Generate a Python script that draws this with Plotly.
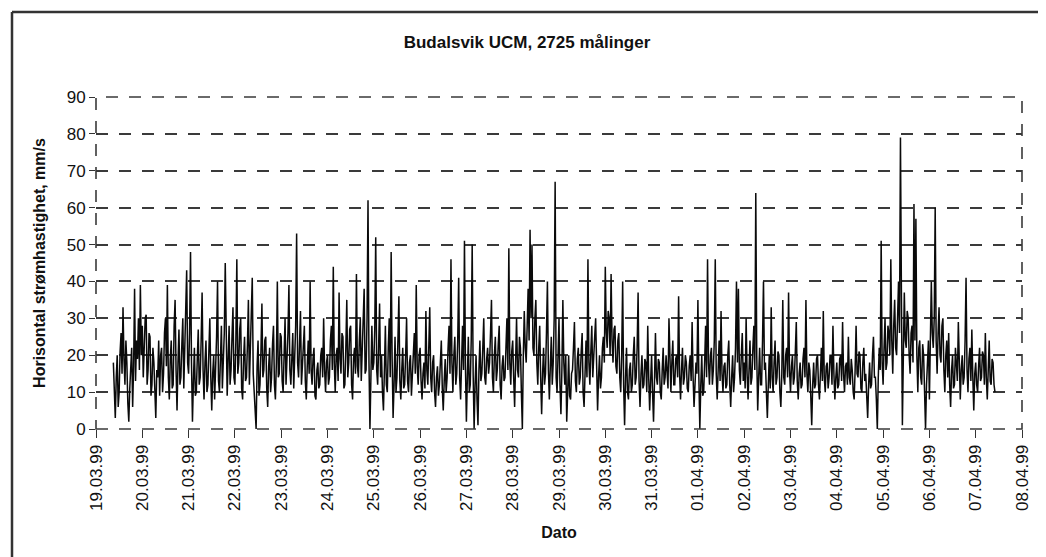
import pandas as pd
import plotly.graph_objects as go

# Half-hourly readings of horizontal current speed (mm/s).
# First day starts 19.03.99 09:00, every other day starts at 00:00.
d19_03 = [18,9,3,14,20,6,10,21,26,15,33,19,12,24,18,7,2,11,15,22,6,17,38,13,24,19,30,16,39,20]
d20_03 = [28,14,22,30,31,12,16,26,25,9,12,22,18,8,3,16,14,24,9,20,22,10,15,26,30,17,39,14,8,19,24,11,12,28,35,16,5,18,27,12,14,23,30,11,20,27,43,18]
d21_03 = [15,26,48,18,2,13,22,9,10,19,27,12,14,24,37,16,8,18,24,10,12,21,30,14,5,15,20,8,15,25,40,13,10,22,28,11,18,26,45,17,9,19,28,12,16,25,33,14]
d22_03 = [12,24,46,15,18,27,30,11,8,19,25,13,14,23,35,12,20,28,41,15,10,6,0,17,24,9,12,21,34,14,16,24,25,11,6,17,22,10,14,23,28,12,8,18,40,14,15,26]
d23_03 = [25,13,10,20,30,12,18,26,39,16,12,22,26,11,20,28,53,18,14,24,32,12,18,25,28,13,8,17,24,15,40,16,12,19,22,9,8,16,18,11,12,20,22,14,30,16,10,18]
d24_03 = [20,12,14,24,28,16,44,18,10,20,22,13,37,19,15,26,25,11,12,22,35,14,18,27,28,12,8,19,22,15,42,17,14,24,30,13,20,26,38,15,16,30,62,18,0,14,28,16]
d25_03 = [18,27,52,16,12,22,34,14,20,10,5,16,28,12,10,22,30,14,48,19,3,12,25,10,14,24,36,13,8,16,22,11,12,20,30,13,10,18,20,9,14,21,26,15,39,17,12,20]
d26_03 = [22,13,8,15,18,11,32,16,12,22,33,14,10,18,20,10,6,14,17,9,12,18,24,11,5,13,19,10,14,22,28,15,46,18,10,20,25,12,15,24,41,14,8,18,28,16,51,17]
d27_03 = [2,14,25,10,12,24,50,15,0,12,20,8,1,16,24,13,15,22,30,14,12,19,22,15,18,26,35,14,10,20,25,13,16,23,28,12,8,17,20,13,14,22,30,16,49,18,12,21]
d28_03 = [24,14,6,18,30,16,14,25,22,10,0,20,32,22,18,28,38,24,54,30,50,22,20,30,35,18,12,22,28,14,4,15,22,12,15,26,40,16,8,17,25,12,18,30,67,14,10,20]
d29_03 = [30,12,4,16,35,18,12,20,2,10,20,9,8,15,16,22,29,13,10,19,22,12,14,21,26,10,6,15,24,14,46,18,12,21,28,14,18,25,30,12,5,14,20,11,14,22,25,18]
d30_03 = [44,26,22,32,30,20,42,24,18,27,28,17,15,24,26,14,10,20,40,12,1,14,22,10,8,16,18,10,12,20,25,12,14,22,37,13,6,15,20,11,12,19,18,10,28,14,5,13]
d31_03 = [20,10,2,13,26,14,12,19,18,10,8,16,22,12,14,20,16,11,30,15,10,18,24,12,12,19,20,14,36,15,8,16,22,12,14,20,18,11,10,17,20,13,29,14,6,12,18,15]
d01_04 = [35,14,0,12,20,9,10,18,28,14,46,18,12,20,22,12,16,24,46,15,8,16,24,13,32,15,10,17,18,11,12,20,24,12,6,14,20,10,14,22,40,18,38,16,12,20,26,13]
d02_04 = [18,11,30,15,8,16,24,12,14,22,28,16,64,20,5,14,22,12,12,24,40,16,18,10,3,12,20,11,33,14,10,18,24,12,14,21,20,10,6,15,35,14,12,20,22,14,37,16]
d03_04 = [10,17,20,12,14,21,29,13,8,15,18,11,12,19,22,14,35,15,10,18,16,9,1,12,18,11,12,19,20,12,8,15,22,13,32,14,10,17,18,11,14,20,20,12,28,15,8,14]
d04_04 = [18,11,12,19,20,13,29,15,10,17,18,12,25,14,12,19,16,10,8,16,28,15,14,21,20,11,10,18,22,13,15,9,3,12,18,11,12,20,25,14,14,8,0,14,22,16,51,18]
d05_04 = [12,22,30,16,18,28,26,20,46,24,15,28,35,22,20,30,40,26,79,36,1,20,37,24,22,32,30,20,15,26,28,18,61,24,57,20,10,22,24,14,12,23,20,10,0,12,18,24]
d06_04 = [8,20,40,26,22,30,60,24,15,26,33,20,18,28,30,16,10,20,24,14,26,12,6,16,20,11,12,22,18,13,29,15,8,16,20,12,14,24,41,16,10,19,22,13,27,14,5,15]
d07_04 = [18,12,10,17,22,13,14,21,20,12,26,14,8,16,24,13,12,19,18,12,10]

day_starts = ["1999-03-19 09:00"] + [d.strftime("%Y-%m-%d 00:00") for d in
                                     pd.date_range("1999-03-20", "1999-04-07", freq="D")]
day_values = [d19_03, d20_03, d21_03, d22_03, d23_03, d24_03, d25_03, d26_03, d27_03,
              d28_03, d29_03, d30_03, d31_03, d01_04, d02_04, d03_04, d04_04, d05_04,
              d06_04, d07_04]

date_ticks = pd.date_range("1999-03-19", "1999-04-08", freq="D")
tick_labels = [d.strftime("%d.%m.%y") for d in date_ticks]

times, speed = [], []
for st, vals in zip(day_starts, day_values):
    times.extend(pd.date_range(st, periods=len(vals), freq="30min"))
    speed.extend(vals)

# page body has an 8px margin; figure is sized so that it fills the window
OFF = 8
W, H = 1046 - OFF, 557 - OFF
L, R, T, B = 96 - OFF, 24, 97 - OFF, 128
pw, ph = W - L - R, H - T - B

def px(x):
    return (x - OFF - L) / pw

def py(y):
    return (H - B - (y - OFF)) / ph

fig = go.Figure()
fig.add_trace(go.Scatter(x=times, y=speed, mode="lines",
                         line=dict(color="#0a0a0a", width=1.5), showlegend=False))

grid_dash = "12px,11px"
grid_col = "#3a3a3a"
fig.update_layout(
    width=W, height=H,
    margin=dict(l=L, r=R, t=T, b=B),
    paper_bgcolor="white", plot_bgcolor="white",
    font=dict(family="Liberation Sans, Arial, sans-serif", color="#111111"),
    title=dict(text="<b>Budalsvik UCM, 2725 målinger</b>", x=0.5, xanchor="center",
               y=1 - (42 - OFF) / H, yanchor="middle", font=dict(size=17)),
    xaxis=dict(
        automargin=False,
        range=[date_ticks[0], date_ticks[-1]],
        tickvals=list(date_ticks), ticktext=tick_labels, tickangle=-90,
        tickfont=dict(size=17), ticks="outside", ticklen=8, tickcolor="#333",
        showgrid=False, zeroline=False, showline=False,
        title=dict(text="<b>Dato</b>", font=dict(size=16), standoff=16),
    ),
    yaxis=dict(
        automargin=False,
        range=[0, 90], dtick=10, tickfont=dict(size=17),
        ticks="outside", ticklen=6, tickcolor="#333",
        showgrid=True, gridcolor=grid_col, gridwidth=1.6, griddash=grid_dash,
        zeroline=False, showline=False,
        title=dict(text="<b>Horisontal strømhastighet, mm/s</b>", font=dict(size=16), standoff=17),
    ),
    shapes=[
        # dashed plot-area border
        dict(type="rect", xref="paper", yref="paper", x0=0, x1=1, y0=0, y1=1,
             line=dict(color=grid_col, width=1.6, dash=grid_dash), layer="above"),
        # outer frame of the figure
        dict(type="line", xref="paper", yref="paper", x0=px(12), x1=px(1046),
             y0=py(12), y1=py(12), line=dict(color="#333333", width=2.5)),
        dict(type="line", xref="paper", yref="paper", x0=px(12), x1=px(12),
             y0=py(12), y1=py(560), line=dict(color="#333333", width=2.5)),
    ],
)

fig.write_html("out.html")
